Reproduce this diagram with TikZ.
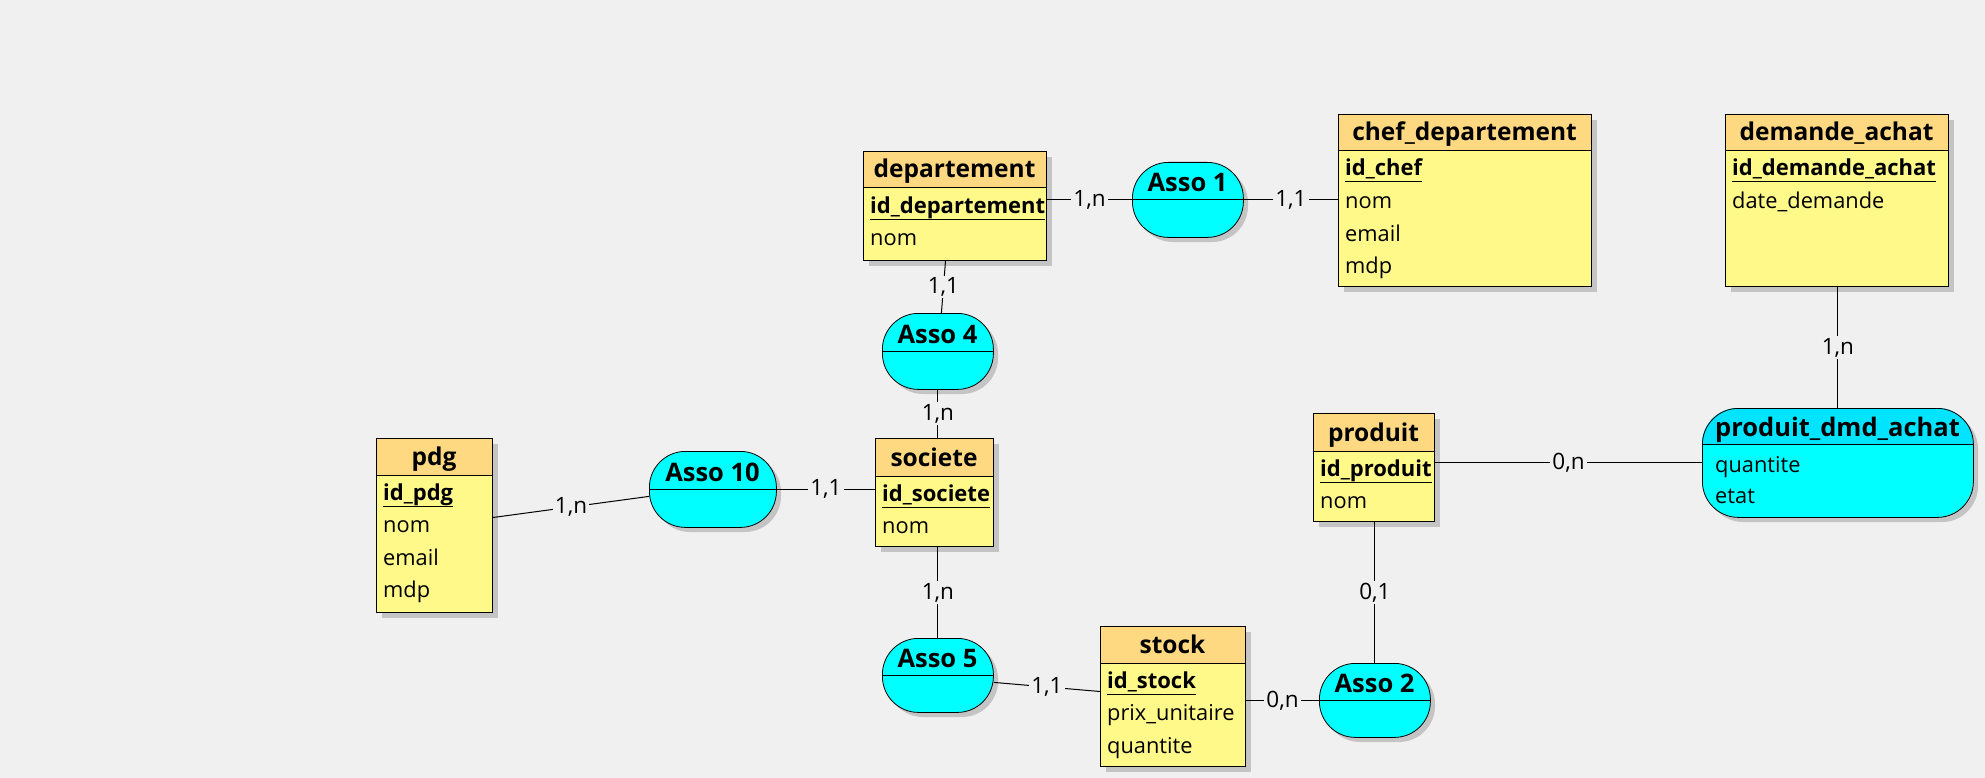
\documentclass[tikz,border=0pt]{standalone}
\usepackage{fontspec}
\setmainfont{Open Sans}
\usetikzlibrary{calc}
\definecolor{bg}{HTML}{F0F0F0}
\definecolor{enthead}{HTML}{FFD982}
\definecolor{entbody}{HTML}{FFF98A}
\definecolor{assofill}{HTML}{00FFFF}
\definecolor{assohead}{HTML}{00E4FF}
\definecolor{shadowc}{HTML}{C4C4C4}
\tikzset{
  headtext/.style={font=\fontsize{24.5}{29}\selectfont\bfseries, inner sep=0pt},
  assotext/.style={font=\fontsize{25.5}{30}\selectfont\bfseries, inner sep=0pt},
  keytext/.style={font=\fontsize{22}{26}\selectfont\bfseries, inner sep=0pt},
  rowtext/.style={font=\fontsize{21.8}{26}\selectfont, inner sep=0pt},
  card/.style={font=\fontsize{22.5}{26}\selectfont, fill=bg, inner sep=2pt},
  entbox/.style={draw=black, line width=1pt, inner sep=0pt, rectangle},
  assobox/.style={draw=black, line width=0.8pt, inner sep=0pt, rectangle, rounded corners=36pt},
  conn/.style={draw=black, line width=1pt}
}
% name, x1, y1, x2, y2, header bottom, title, key, rows
\newcommand{\entity}[9]{%
  \fill[shadowc] (#2+6,#3+6) rectangle (#4+6,#5+6);
  \fill[entbody] (#2,#3) rectangle (#4,#5);
  \fill[enthead] (#2,#3) rectangle (#4,#6);
  \draw[line width=1pt] (#2,#6) -- (#4,#6);
  \node[entbox, anchor=north west, minimum width=#4pt-#2pt, minimum height=#5pt-#3pt] (#1) at (#2,#3) {};
  \node[headtext, anchor=base] at ({(#2+#4)/2},#6-10) {#7};
  \node[keytext, anchor=base west] (#1-key) at (#2+7,#6+25) {#8};
  \draw[line width=1pt] ([yshift=-6pt]#1-key.base west) -- ([yshift=-6pt]#1-key.base east);
  \foreach \r [count=\i] in {#9} {\node[rowtext, anchor=base west] at (#2+7,#6+25+32.5*\i) {\r};}
}
% name, x1, y1, x2, y2, title
\newcommand{\asso}[6]{%
  \fill[shadowc, rounded corners=36pt] (#2+5,#3+5) rectangle (#4+5,#5+5);
  \node[assobox, fill=assofill, anchor=north west, minimum width=#4pt-#2pt, minimum height=#5pt-#3pt] (#1) at (#2,#3) {};
  \draw[line width=1pt] (#2,{(#3+#5)/2}) -- (#4,{(#3+#5)/2});
  \node[assotext, anchor=base] at ({(#2+#4)/2},{(#3+#5)/2-8}) {#6};
}
\begin{document}
\begin{tikzpicture}[x=1pt,y=-1pt]
\fill[bg] (0,0) rectangle (1985,778);
\useasboundingbox (0,0) rectangle (1985,778);

% entities
\entity{departement}{863}{151}{1046}{260}{188}{departement}{id\_departement}{nom}
\entity{chef}{1338}{114}{1591}{286}{151}{chef\_departement}{id\_chef}{nom,email,mdp}
\entity{demande}{1725}{114}{1948}{286}{151}{demande\_achat}{id\_demande\_achat}{date\_demande}
\entity{pdg}{376}{438}{492}{612}{475}{pdg}{id\_pdg}{nom,email,mdp}
\entity{societe}{875}{438}{993}{546}{476}{societe}{id\_societe}{nom}
\entity{produit}{1313}{413}{1434}{521}{451}{produit}{id\_produit}{nom}
\entity{stock}{1100}{626}{1245}{766}{663}{stock}{id\_stock}{prix\_unitaire,quantite}

% associations
\asso{asso1}{1132}{162}{1243}{237}{Asso 1}
\asso{asso4}{882}{313}{993}{389}{Asso 4}
\asso{asso10}{649}{451}{776}{527}{Asso 10}
\asso{asso5}{882}{638}{993}{712}{Asso 5}
\asso{asso2}{1319}{663}{1430}{737}{Asso 2}

% produit_dmd_achat
\fill[shadowc, rounded corners=36pt] (1707,413) rectangle (1978,522);
\begin{scope}
  \clip[rounded corners=36pt] (1702,408) rectangle (1973,517);
  \fill[assofill] (1702,408) rectangle (1973,517);
  \fill[assohead] (1702,408) rectangle (1973,444);
\end{scope}
\node[assobox, anchor=north west, minimum width=271pt, minimum height=109pt] (pda) at (1702,408) {};
\draw[line width=1pt] (1702,444) -- (1973,444);
\node[assotext, anchor=base] (pdatitle) at (1837.5,436) {produit\_dmd\_achat};
\node[rowtext, anchor=base west] (pdaq) at (1715,472) {quantite};
\node[rowtext, anchor=base west] (pdae) at (1715,503.5) {etat};

% connectors
\draw[conn] (departement.east |- asso1.west) -- node[card]{1,n} (asso1.west);
\draw[conn] (asso1.east) -- node[card]{1,1} (asso1.east -| chef.west);
\draw[conn] ([xshift=-9.5pt]departement.south) -- node[card]{1,1} ([xshift=3.5pt]asso4.north);
\draw[conn] (asso4.south) -- node[card]{1,n} (asso4.south |- societe.north);
\draw[conn] ([yshift=8pt]pdg.east) -- node[card]{1,n} ([yshift=-7pt]asso10.west);
\draw[conn] (asso10.east) -- node[card]{1,1} (asso10.east -| societe.west);
\draw[conn] (asso5.north) -- node[card]{1,n} (asso5.north |- societe.south);
\draw[conn] ([yshift=-7pt]asso5.east) -- node[card]{1,1} ([yshift=5pt]stock.west);
\draw[conn] (stock.east |- asso2.west) -- node[card]{0,n} (asso2.west);
\draw[conn] (asso2.north) -- node[card]{0,1} (asso2.north |- produit.south);
\draw[conn] (produit.east |- pda.west) -- node[card]{0,n} (pda.west);
\draw[conn] (pda.north) -- node[card]{1,n} (pda.north |- demande.south);
\end{tikzpicture}
\end{document}
